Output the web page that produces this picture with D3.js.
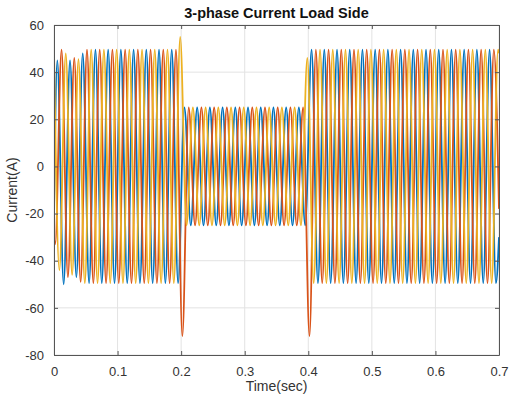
<!DOCTYPE html>
<html>
    <head>
        <meta charset="utf-8">
        <title>3-phase Current Load Side</title>
        <style>
            body { margin: 0; background: #fff; }
            text { font-family: "Liberation Sans", Arial, sans-serif; }
        </style>
    </head>
    <body>
        <svg></svg>
        <script src="https://cdn.jsdelivr.net/npm/d3@7"></script>
        <script>
            // axis ticks
            var xTicks = [0, 0.1, 0.2, 0.3, 0.4, 0.5, 0.6, 0.7];
            var yTicks = [-80, -60, -40, -20, 0, 20, 40, 60];

            // each phase: value at t=0, then its peaks/troughs every half cycle (0.01 s), then value at t=0.7
            var halfCycle = 0.01;

            var phaseAStart = -18, phaseAFirst = 0.0052, phaseAEnd = -30;
            var phaseAPeaks = [45, -50, 45, -47, 48, -49.5,
                49.5, -49.5, 49.5, -49.5, 49.5, -49.5, 49.5, -49.5, 49.5, -49.5, 49.5, -49.5, 49.5, -49.5,
                25, -25, 25, -25, 25, -25, 25, -25, 25, -25, 25, -25, 25, -25, 25, -25, 25, -25, 25, -25,
                49.5, -49.5, 49.5, -49.5, 49.5, -49.5, 49.5, -49.5, 49.5, -49.5, 49.5, -49.5, 49.5, -49.5, 49.5,
                -49.5, 49.5, -49.5, 49.5, -49.5, 49.5, -49.5, 49.5, -49.5, 49.5, -49.5, 49.5, -49.5, 49.5, -49.5];

            var phaseBStart = -31, phaseBFirst = 0.0019, phaseBEnd = -18;
            var phaseBPeaks = [-33, 49.5, -47, 46, -49, 49.5,
                -49.5, 49.5, -49.5, 49.5, -49.5, 49.5, -49.5, 49.5, -49.5, 49.5, -49.5, 49.5, -49.5, 49.5,
                -72, 25,
                -25, 25, -25, 25, -25, 25, -25, 25, -25, 25, -25, 25, -25, 25, -25, 25, -25, 25,
                -72, 49.5,
                -49.5, 49.5, -49.5, 49.5, -49.5, 49.5, -49.5, 49.5, -49.5, 49.5, -49.5, 49.5, -49.5, 49.5,
                -49.5, 49.5, -49.5, 49.5, -49.5, 49.5, -49.5, 49.5, -49.5, 49.5, -49.5, 49.5, -49.5, 49.5];

            var phaseCStart = 49, phaseCFirst = 0.0085, phaseCEnd = 48;
            var phaseCPeaks = [-44, 48, -46, 45.5, -49.5,
                49.5, -49.5, 49.5, -49.5, 49.5, -49.5, 49.5, -49.5, 49.5, -49.5, 49.5, -49.5, 49.5, -49.5,
                55, -25,
                25, -25, 25, -25, 25, -25, 25, -25, 25, -25, 25, -25, 25, -25, 25, -25, 25, -25,
                46, -49.5,
                49.5, -49.5, 49.5, -49.5, 49.5, -49.5, 49.5, -49.5, 49.5, -49.5, 49.5, -49.5, 49.5, -49.5, 49.5,
                -49.5, 49.5, -49.5, 49.5, -49.5, 49.5, -49.5, 49.5, -49.5, 49.5, -49.5, 49.5, -49.5, 49.5];

            var phaseColors = ["#0072BD", "#D95319", "#EDB120"];

            function buildPoints(start, first, peaks, end) {
                var pts = [[0, start]];
                for (var i = 0; i < peaks.length; i++) {
                    pts.push([first + i * halfCycle, peaks[i]]);
                }
                pts.push([0.7, end]);
                return pts;
            }

            var phases = [
                buildPoints(phaseAStart, phaseAFirst, phaseAPeaks, phaseAEnd),
                buildPoints(phaseBStart, phaseBFirst, phaseBPeaks, phaseBEnd),
                buildPoints(phaseCStart, phaseCFirst, phaseCPeaks, phaseCEnd)
            ];

            var width = 510, height = 398;
            var plotLeft = 54, plotRight = 499, plotTop = 25, plotBottom = 355;

            var svg = d3.select("svg")
                .attr("width", width)
                .attr("height", height);

            var x = d3.scaleLinear().domain([0, 0.7]).range([plotLeft, plotRight]);
            var y = d3.scaleLinear().domain([-80, 60]).range([plotBottom, plotTop]);

            // grid
            svg.append("g").selectAll("line").data(xTicks).enter().append("line")
                .attr("x1", function(d) { return x(d); })
                .attr("x2", function(d) { return x(d); })
                .attr("y1", plotTop).attr("y2", plotBottom)
                .style("stroke", "#e3e3e3").style("stroke-width", 1);
            svg.append("g").selectAll("line").data(yTicks).enter().append("line")
                .attr("y1", function(d) { return y(d); })
                .attr("y2", function(d) { return y(d); })
                .attr("x1", plotLeft).attr("x2", plotRight)
                .style("stroke", "#e3e3e3").style("stroke-width", 1);

            svg.append("clipPath").attr("id", "plotClip")
                .append("rect")
                .attr("x", plotLeft).attr("y", plotTop)
                .attr("width", plotRight - plotLeft).attr("height", plotBottom - plotTop);

            var line = d3.line()
                .x(function(d) { return x(d[0]); })
                .y(function(d) { return y(d[1]); })
                .curve(d3.curveMonotoneX);

            svg.append("g").attr("clip-path", "url(#plotClip)")
                .selectAll("path").data(phases).enter().append("path")
                .attr("d", line)
                .style("fill", "none")
                .style("stroke", function(d, i) { return phaseColors[i]; })
                .style("stroke-width", 1.8)
                .style("stroke-linejoin", "round");

            // axes with inward ticks, mirrored on top and right
            var axisColor = "#555";
            svg.append("g").attr("transform", "translate(0," + plotBottom + ")")
                .call(d3.axisBottom(x).tickValues(xTicks).tickSizeInner(-4).tickSizeOuter(0).tickPadding(12)
                    .tickFormat(function(d) { return d === 0 ? "0" : d.toFixed(1); }));
            svg.append("g").attr("transform", "translate(0," + plotTop + ")")
                .call(d3.axisTop(x).tickValues(xTicks).tickSizeInner(-4).tickSizeOuter(0).tickFormat(""));
            svg.append("g").attr("transform", "translate(" + plotLeft + ",0)")
                .call(d3.axisLeft(y).tickValues(yTicks).tickSizeInner(-4).tickSizeOuter(0).tickPadding(10)
                    .tickFormat(function(d) { return String(d); }));
            svg.append("g").attr("transform", "translate(" + plotRight + ",0)")
                .call(d3.axisRight(y).tickValues(yTicks).tickSizeInner(-4).tickSizeOuter(0).tickFormat(""));

            svg.selectAll(".domain").style("stroke", axisColor);
            svg.selectAll(".tick line").style("stroke", axisColor);
            svg.selectAll(".tick text")
                .style("font-size", "13px")
                .style("fill", "#333")
                .style("font-family", "'Liberation Sans', Arial, sans-serif");

            // titles
            svg.append("text")
                .attr("x", (plotLeft + plotRight) / 2).attr("y", 18)
                .attr("text-anchor", "middle")
                .style("font-size", "14.5px").style("font-weight", "bold").style("fill", "#111")
                .text("3-phase Current Load Side");
            svg.append("text")
                .attr("x", (plotLeft + plotRight) / 2).attr("y", 391)
                .attr("text-anchor", "middle")
                .style("font-size", "14px").style("fill", "#333")
                .text("Time(sec)");
            svg.append("text")
                .attr("transform", "translate(17," + (plotTop + plotBottom) / 2 + ") rotate(-90)")
                .attr("text-anchor", "middle")
                .style("font-size", "14px").style("fill", "#333")
                .text("Current(A)");
        </script>
    </body>
</html>
